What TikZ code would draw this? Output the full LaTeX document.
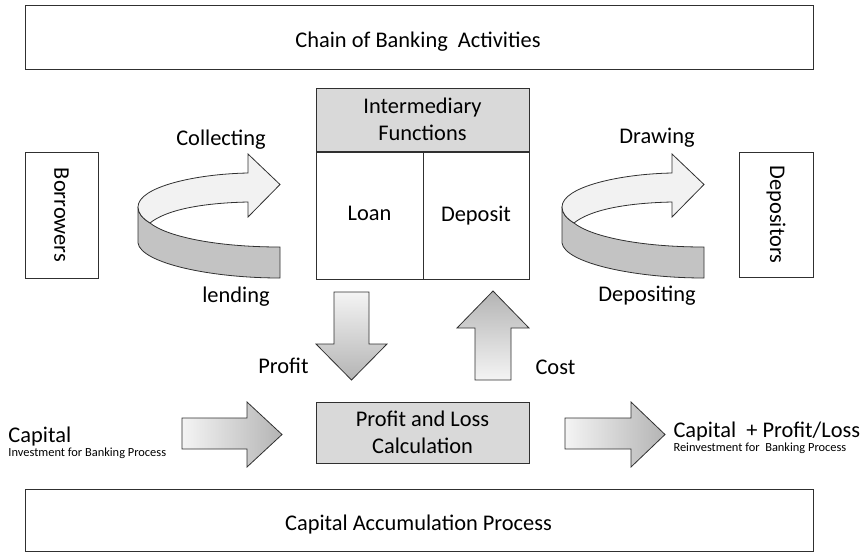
\documentclass[tikz,border=0pt]{standalone}
\usepackage{fontspec}
\setmainfont{Carlito}
\definecolor{ln}{HTML}{303030}
\definecolor{boxgray}{HTML}{D9D9D9}
\definecolor{bandlight}{HTML}{F2F2F2}
\definecolor{banddark}{HTML}{C3C3C3}
\definecolor{arrlight}{HTML}{F4F4F4}
\definecolor{arrdark}{HTML}{B4B4B4}
\begin{document}
\begin{tikzpicture}[x=1pt,y=-1pt,
  font=\fontsize{22.4}{27}\selectfont,
  line width=1pt,
  box/.style={draw=ln, inner sep=0pt, align=center},
  gbox/.style={box, fill=boxgray},
  lbl/.style={inner sep=0pt},
  small/.style={inner sep=0pt, font=\fontsize{12.4}{14}\selectfont},
  blockarrow/.style={draw=ln, line width=0.8pt, line join=miter},
  bandL/.style={draw=ln, line width=0.8pt, fill=bandlight},
  bandD/.style={draw=ln, line width=0.8pt, fill=banddark}]
\useasboundingbox (0,0) rectangle (866,552);

% top and bottom frames
\node[box, minimum width=788pt, minimum height=64pt] (chain) at (419,37) {};
\node[lbl, anchor=base] (chaintext) at (418,47) {Chain of Banking\ \ Activities};
\node[box, minimum width=788pt, minimum height=62pt] (accum) at (419,520.5) {};
\node[lbl, anchor=base] (accumtext) at (418.5,530) {Capital Accumulation Process};

% side boxes
\node[box, rotate=-90, minimum width=126pt, minimum height=73pt] (borrowers) at (61.5,215) {Borrowers};
\node[box, rotate=-90, minimum width=125pt, minimum height=74pt] (depositors) at (776,214.5) {Depositors};

% intermediary block
\node[gbox, minimum width=213pt, minimum height=63pt] (inter) at (422.5,119.5) {Intermediary\\Functions};
\node[box, minimum width=107pt, minimum height=127pt, anchor=north west] (loan) at (inter.south west) {\vphantom{Dp}Loan};
\node[box, minimum width=106pt, minimum height=127pt, anchor=north east] (deposit) at (inter.south east) {\vphantom{Dp}Deposit};

% profit and loss
\node[gbox, minimum width=213pt, minimum height=61pt] (pl) at (422.5,432.5) {Profit and Loss\\Calculation};

% vertical block arrows
\shade[blockarrow, top color=arrlight, bottom color=arrdark]
  (334,292) -- (369,292) -- (369,344) -- (387,344) -- (351.5,380) -- (316,344) -- (334,344) -- cycle;
\shade[blockarrow, top color=arrdark, bottom color=arrlight]
  (475,380) -- (511,380) -- (511,328) -- (529,328) -- (493,291) -- (457,328) -- (475,328) -- cycle;

% horizontal block arrows
\shade[blockarrow, left color=arrlight, right color=arrdark]
  (182,418) -- (247,418) -- (247,402) -- (282,434.5) -- (247,467) -- (247,449) -- (182,449) -- cycle;
\shade[blockarrow, left color=arrlight, right color=arrdark]
  (565,418) -- (631,418) -- (631,402) -- (665,434.5) -- (631,467) -- (631,449) -- (565,449) -- cycle;

% curved ribbon arrows
\foreach \dx in {0,424}{
\begin{scope}[xshift=\dx]
  \path[bandD] (138,207) -- (138,243) .. controls (141,263) and (210,278) .. (280,278)
     -- (280,247) .. controls (214,247) and (166,236) .. (150,223)
     .. controls (142,218) and (138,213) .. cycle;
  \path[bandL] (138,207) .. controls (138,187) and (195,174) .. (248,173)
     -- (248,154) -- (280,184.5) -- (248,217) -- (248,202)
     .. controls (201,203) and (166,210) .. (150,223)
     .. controls (142,218) and (138,213) .. cycle;
\end{scope}}

% labels
\node[lbl] (collecting) at (221,140) {Collecting};
\node[lbl] (lending) at (236,297) {lending};
\node[lbl] (drawing) at (657,138) {Drawing};
\node[lbl] (depositing) at (647,296) {Depositing};
\node[lbl, anchor=east] (profit) at (309,366) {Profit};
\node[lbl, anchor=west] (cost) at (535,367) {Cost};

\node[lbl, anchor=base west] (capital) at (8,442) {Capital};
\node[small, anchor=base west] (invest) at (8,456) {Investment for Banking Process};
\node[lbl, anchor=base west] (capitalpl) at (673,437) {Capital\ \ + Profit/Loss};
\node[small, anchor=base west] (reinvest) at (673,451) {Reinvestment for\ \ Banking Process};
\end{tikzpicture}
\end{document}
